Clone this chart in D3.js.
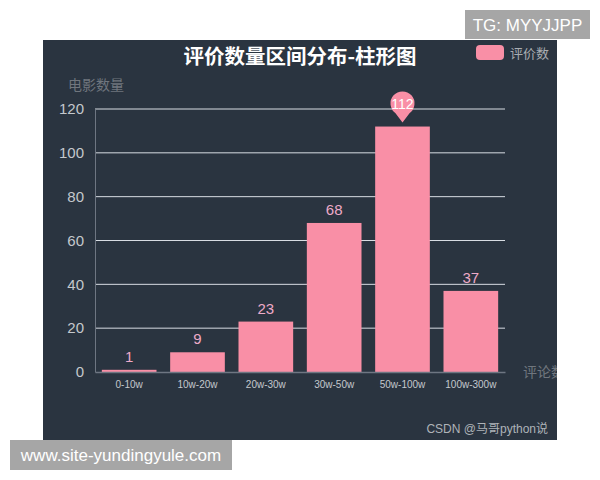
<!DOCTYPE html>
<html><head><meta charset="utf-8">
<script src="https://cdn.jsdelivr.net/npm/d3@7/dist/d3.min.js"></script>
<style>body{margin:0;background:#fff;}svg{display:block;}</style>
</head><body>
<svg id="c" width="600" height="480"></svg>
<script>
const categories = ["0-10w","10w-20w","20w-30w","30w-50w","50w-100w","100w-300w"];
const values = [1, 9, 23, 68, 112, 37];
const yTicks = [0, 20, 40, 60, 80, 100, 120];
const seriesName = "评价数";
const titleText = "评价数量区间分布-柱形图";

const svg = d3.select("#c");
const font = "'Liberation Sans','Noto Sans CJK SC',sans-serif";
const bg = {x:43, y:40, w:514, h:400};
svg.append("defs").append("clipPath").attr("id","clip")
  .append("rect").attr("x",bg.x).attr("y",bg.y).attr("width",bg.w).attr("height",bg.h);
svg.append("rect").attr("x",bg.x).attr("y",bg.y).attr("width",bg.w).attr("height",bg.h).attr("fill","#2a3440");
const g0 = svg.append("g").attr("clip-path","url(#clip)");

const pLeft = 95, pRight = 505, pTop = 109, pBottom = 372;
const x = d3.scaleBand().domain(categories).range([pLeft,pRight]).paddingInner(0.2).paddingOuter(0.1);
const y = d3.scaleLinear().domain([0,120]).range([pBottom,pTop]);
const barColor = "#f98fa6";
const rows = categories.map((c,i)=>({c, v:values[i]}));

// grid lines
g0.selectAll("line.grid").data(yTicks.filter(d=>d>0)).join("line")
  .attr("x1",pLeft).attr("x2",pRight).attr("y1",d=>y(d)).attr("y2",d=>y(d))
  .attr("stroke","#d8dde3").attr("stroke-width",1);

// bars
g0.selectAll("rect.bar").data(rows).join("rect")
  .attr("x",d=>x(d.c)).attr("width",x.bandwidth())
  .attr("y",d=>y(d.v)).attr("height",d=>pBottom-y(d.v)).attr("fill",barColor);

// y axis
const yAxis = d3.axisLeft(y).tickValues(yTicks).tickSize(0).tickPadding(11);
const ya = g0.append("g").attr("transform",`translate(${pLeft},0)`).call(yAxis);
ya.select(".domain").attr("stroke","#6e7682");
ya.selectAll("text").attr("fill","#c4c8cd").attr("font-size",15).attr("font-family",font);

// x axis
const xAxis = d3.axisBottom(x).tickSize(0).tickPadding(9);
const xa = g0.append("g").attr("transform",`translate(0,${pBottom})`).call(xAxis);
xa.select(".domain").attr("stroke","#6e7682").attr("stroke-width",1.5);
xa.selectAll("text").attr("fill","#c4c8cd").attr("font-size",10).attr("font-family",font);

// value labels
const maxV = d3.max(values);
g0.selectAll("text.val").data(rows.filter(d=>d.v!==maxV)).join("text")
  .attr("x",d=>x(d.c)+x.bandwidth()/2).attr("y",d=>y(d.v)-8)
  .attr("text-anchor","middle").attr("fill","#eeaac8").attr("font-size",15).attr("font-family",font)
  .text(d=>d.v);

// mark point on max
const maxRow = rows.find(d=>d.v===maxV);
const mx = x(maxRow.c)+x.bandwidth()/2, tipY = y(maxV)-4;
const r = 12, cy = tipY-19;
g0.append("path")
  .attr("d",`M${mx},${tipY} L${mx-7},${cy+9.6} A${r},${r} 0 1 1 ${mx+7},${cy+9.6} Z`)
  .attr("fill",barColor);
g0.append("text").attr("x",mx).attr("y",cy+5).attr("text-anchor","middle")
  .attr("fill","#ffffff").attr("font-size",14).attr("font-family",font).text(maxV);

// axis names
g0.append("text").attr("x",68).attr("y",90).attr("fill","#70767e").attr("font-size",14).attr("font-family",font).text("电影数量");
g0.append("text").attr("x",523).attr("y",377).attr("fill","#70767e").attr("font-size",14).attr("font-family",font).text("评论数");

// title
g0.append("text").attr("x",300).attr("y",64).attr("text-anchor","middle").attr("fill","#ffffff")
  .attr("font-size",20.5).attr("font-weight","bold").attr("font-family","'Noto Sans CJK SC',sans-serif").text(titleText);

// legend
g0.append("rect").attr("x",476).attr("y",45).attr("width",28).attr("height",15).attr("rx",4).attr("fill",barColor);
g0.append("text").attr("x",510).attr("y",58).attr("fill","#a9adb2").attr("font-size",13).attr("font-family",font).text(seriesName);

// credit
g0.append("text").attr("x",548).attr("y",433).attr("text-anchor","end").attr("fill","#aeb3b8").attr("font-size",12).attr("font-family",font).text("CSDN @马哥python说");

// watermarks
svg.append("rect").attr("x",465).attr("y",10).attr("width",125).attr("height",29).attr("fill","#a6a6a6");
svg.append("text").attr("x",527.5).attr("y",31).attr("text-anchor","middle").attr("fill","#ffffff").attr("font-size",17).attr("font-family","'Liberation Sans',sans-serif").text("TG: MYYJJPP");
svg.append("rect").attr("x",10).attr("y",440).attr("width",222).attr("height",30).attr("fill","#a6a6a6");
svg.append("text").attr("x",121).attr("y",461).attr("text-anchor","middle").attr("fill","#ffffff").attr("font-size",17).attr("font-family","'Liberation Sans',sans-serif").text("www.site-yundingyule.com");
</script>
</body></html>
